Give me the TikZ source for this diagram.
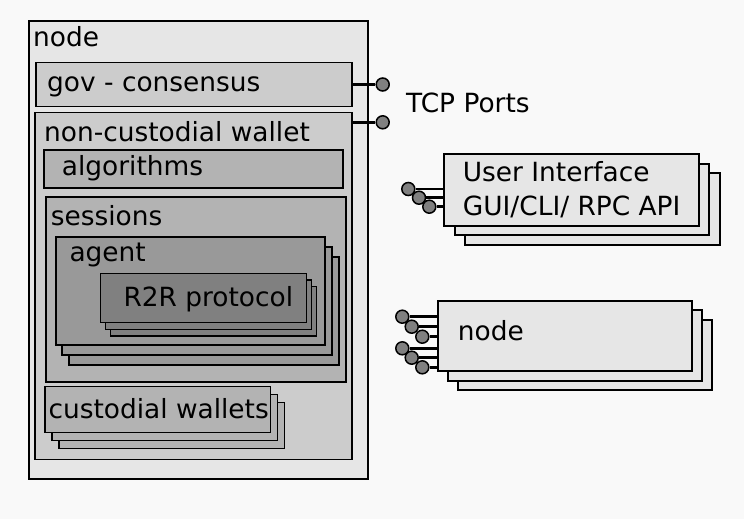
\documentclass[tikz,border=0pt]{standalone}
\usepackage{fontspec}
\setmainfont{DejaVu Sans}
\usetikzlibrary{fit,shadows}
\definecolor{bgc}{HTML}{F9F9F9}
\definecolor{g1}{HTML}{E6E6E6}
\definecolor{g2}{HTML}{CCCCCC}
\definecolor{g3}{HTML}{B3B3B3}
\definecolor{g4}{HTML}{999999}
\definecolor{g5}{HTML}{808080}
\begin{document}
\begin{tikzpicture}[x=1pt,y=-1pt,
  box/.style={draw=black, line width=2pt, inner sep=0pt},
  lbl/.style={inner sep=0pt, anchor=base west, font=\fontsize{26.4}{30}\selectfont},
  port/.style={circle, draw=black, line width=1.5pt, fill=g5, minimum size=13pt, inner sep=0pt},
  wire/.style={line width=2.5pt}]
\fill[bgc] (0,0) rectangle (744,519);
\useasboundingbox (0,0) rectangle (744,519);
% main node
\node[box, fill=g1, fit={(29,21) (368,479)}] (outer) {};
\node[lbl] (tnode) at (33,47) {node};
\node[box, line width=1.5pt, fill=g2, fit={(36,62.3) (352,106.7)}] (gov) {};
\node[lbl] (tgov) at (47,91) {gov - consensus};
\node[box, line width=1.5pt, fill=g2, fit={(35,112.7) (352,459.3)}] (ncw) {};
\node[lbl] (tncw) at (44,141.7) {non-custodial wallet};
\node[box, fill=g3, fit={(44,150.3) (343.3,188.3)}] (alg) {};
\node[lbl] (talg) at (61.7,175.7) {algorithms};
\node[box, fill=g3, fit={(45.7,196.7) (346.3,381.7)}] (ses) {};
\node[lbl] (tses) at (50.7,225) {sessions};
\node[box, fill=g4, double copy shadow={shadow xshift=6.7pt, shadow yshift=-10pt}, fit={(55.7,236.7) (325.3,345)}] (agent) {};
\node[lbl] (tagent) at (69.3,261) {agent};
\node[box, line width=1.5pt, fill=g5, double copy shadow={shadow xshift=5pt, shadow yshift=-6.7pt}, fit={(100.3,273.3) (306.7,322.7)}] (r2r) {};
\node[lbl] (tr2r) at (123.3,306.7) {R2R protocol};
\node[box, line width=1.5pt, fill=g3, double copy shadow={shadow xshift=7pt, shadow yshift=-8pt}, fit={(45,386.7) (270.3,432.7)}] (cw) {};
\node[lbl] (tcw) at (48.3,418.3) {custodial wallets};
% TCP ports
\node[port] (p1) at (382.7,84.5) {};
\node[port] (p2) at (382.7,122.3) {};
\draw[wire] (gov.east) -- (p1);
\draw[wire] (p2 -| ncw.east) -- (p2);
\node[lbl] (ttcp) at (406,112.7) {TCP Ports};
% User interface
\node[box, fill=g1, double copy shadow={shadow xshift=10.3pt, shadow yshift=-9.3pt}, fit={(444.3,154.3) (699,226)}] (ui) {};
\node[lbl] (tui1) at (462.7,181.7) {User Interface};
\node[lbl] (tui2) at (462.7,215.7) {GUI/CLI/ RPC API};
\node[port] (u1) at (408.3,189) {};
\node[port] (u2) at (419,197.7) {};
\node[port] (u3) at (429.3,206.7) {};
\draw[wire] (u1) -- (u1 -| ui.west);
\draw[wire] (u2) -- (u2 -| ui.west);
\draw[wire] (u3) -- (u3 -| ui.west);
% remote node
\node[box, fill=g1, double copy shadow={shadow xshift=10pt, shadow yshift=-9.7pt}, fit={(438.3,300.7) (692.3,371)}] (rn) {};
\node[lbl] (trn) at (457.7,340) {node};
\node[port] (n1) at (402.3,316.7) {};
\node[port] (n2) at (411.7,326.7) {};
\node[port] (n3) at (422.3,336.7) {};
\node[port] (n4) at (402.3,348.3) {};
\node[port] (n5) at (411.7,357.7) {};
\node[port] (n6) at (422.3,367.3) {};
\foreach \n in {n1,n2,n3,n4,n5,n6}{\draw[wire] (\n) -- (\n -| rn.west);}
\end{tikzpicture}
\end{document}
